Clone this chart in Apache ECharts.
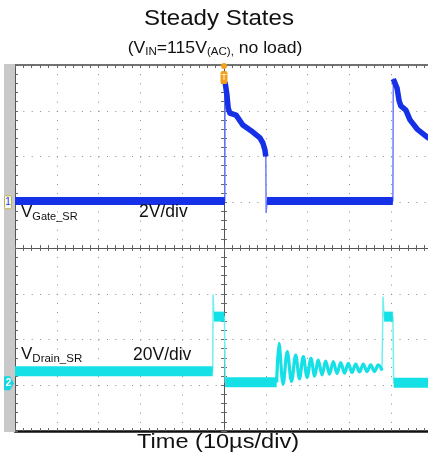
<!DOCTYPE html>
<html><head><meta charset="utf-8">
<script src="https://cdn.jsdelivr.net/npm/echarts@6/dist/echarts.min.js"></script>
<style>html,body{margin:0;padding:0;background:#fff}#c{width:428px;height:459px}</style>
</head><body><div id="c"></div>
<script>
// ---------------- data (time in µs, values in volts) ----------------
const timeTicks = [0, 10, 20, 30, 40, 50, 60, 70, 80, 90, 100];
const divTicks = [-4, -3, -2, -1, 0, 1, 2, 3, 4];
const gateScale = 2;    // V/div
const gateOffset = 1;   // ground position, divisions above centre
const drainScale = 20;  // V/div
const drainOffset = -3; // ground position, divisions from centre

// CH1 V_Gate_SR: noisy runs (drawn wide) and fast spikes between them
const gateRuns = [
  [[0, 0.05], [50.2, 0.05]],
  [[50.25, 5.26], [50.7, 4.69], [51.0, 4.12], [51.4, 3.9], [52.9, 3.81], [54.5, 3.38], [56.9, 3.07], [58.6, 2.81], [59.3, 2.59], [59.8, 2.28], [60.0, 2.0]],
  [[60.3, 0.05], [90.4, 0.05]],
  [[90.5, 5.39], [90.9, 5.34], [91.4, 4.99], [91.9, 4.43], [92.3, 4.21], [93.5, 4.03], [94.5, 3.6], [96.2, 3.2], [98.6, 2.85], [100, 2.7]]
];
const gateSpikes = [[60.08, -0.45]];

// CH2 V_Drain_SR
const drainRuns = [
  [[0, 6.1], [47.3, 6.1]],
  [[47.6, 30], [50.1, 30]],
  [[50.3, 1.3], [62.6, 1.3]],
  [[88.3, 30], [90.4, 30]],
  [[90.6, 1.1], [100, 1.1]]
];
const drainSpikes = [[47.4, 39.5], [88.05, 38.6]];
const drainRing = [[62.6, 1.3], [63.16, 18.3], [64.15, 0.5], [65.14, 14.7], [66.15, 1.7], [67.15, 13.2], [68.06, 2.8], [68.97, 12.5], [69.89, 3.4], [70.81, 11.8], [71.69, 4.0], [72.56, 11.0], [73.45, 4.5], [74.33, 10.6], [75.24, 4.9], [76.15, 10.3], [77.04, 5.1], [77.92, 9.9], [78.83, 5.3], [79.74, 9.6], [80.63, 5.6], [81.51, 9.3], [82.42, 5.8], [83.33, 9.3], [84.22, 6.0], [85.10, 8.9], [86.0, 6.0], [86.91, 8.9], [87.8, 6.5]];

// ---------------- chart ----------------
const gateDiv = v => gateOffset + v / gateScale;
const drainDiv = v => drainOffset + v / drainScale;
const GRID = {left: 15, top: 65, width: 418, height: 366, outerBoundsMode: 'none', containLabel: false};

const BLUE = '#1530e6', BLUE_EDGE = '#6f7bff';
const CYAN = '#14e0e6', CYAN_EDGE = '#6ff0f2';

function fullTrace(runs, spikes, extra, conv) {
  let pts = [];
  runs.forEach(r => pts = pts.concat(r));
  pts = pts.concat(spikes).concat(extra || []);
  pts.sort((a, b) => a[0] - b[0]);
  return pts.map(p => [p[0], conv(p[1])]);
}
function lineSeries(data, color, width, z, smooth) {
  return {type: 'line', xAxisIndex: 0, yAxisIndex: 0, data, symbol: 'none', showSymbol: false,
    smooth: smooth || false, animation: false, silent: true, z,
    lineStyle: {color, width, cap: 'butt', join: 'round'}};
}
const isFlat = r => r.length === 2;

const series = [];
series.push(lineSeries(fullTrace(gateRuns, gateSpikes, [], gateDiv), BLUE_EDGE, 1.5, 3));
gateRuns.forEach(r => series.push(lineSeries(r.map(p => [p[0], gateDiv(p[1])]), BLUE, isFlat(r) ? 8 : 5.5, 4)));
series.push(lineSeries(fullTrace(drainRuns, drainSpikes, drainRing, drainDiv), CYAN_EDGE, 1.5, 3));
drainRuns.forEach(r => series.push(lineSeries(r.map(p => [p[0], drainDiv(p[1])]), CYAN, 10, 4)));
series.push(lineSeries(drainRing.map(p => [p[0], drainDiv(p[1])]), CYAN, 3.2, 4, 0.35));

const dotV = {color: '#8a8a8a', width: 1, type: [1, 8.15]};
const dotH = {color: '#8a8a8a', width: 1, type: [1, 7.36]};
const minor = (len) => ({show: true, splitNumber: 5, length: len, lineStyle: {color: '#666', width: 1}});
const tick = (len, inside) => ({show: true, inside, length: len, lineStyle: {color: '#666', width: 1}});

const grids = [0, 1, 2].map(() => Object.assign({}, GRID));
const xMin = timeTicks[0], xMax = timeTicks[timeTicks.length - 1];
const yMin = divTicks[0], yMax = divTicks[divTicks.length - 1];
const half = (xMax - xMin) / 2;

const option = {
  animation: false,
  backgroundColor: '#fff',
  grid: grids,
  xAxis: [
    {gridIndex: 0, type: 'value', min: xMin, max: xMax, interval: 10, position: 'bottom',
      axisLine: {show: true, onZero: false, lineStyle: {color: '#111', width: 2.5}},
      axisTick: tick(3, true), minorTick: minor(3), axisLabel: {show: false},
      splitLine: {show: true, lineStyle: dotV}},
    {gridIndex: 0, type: 'value', min: xMin, max: xMax, interval: 10, position: 'top',
      axisLine: {show: true, onZero: false, lineStyle: {color: '#444', width: 1.5}},
      axisTick: tick(3, true), minorTick: minor(3), axisLabel: {show: false}, splitLine: {show: false}},
    {gridIndex: 1, type: 'value', min: -half, max: half, interval: 10,
      axisLine: {show: true, onZero: true, lineStyle: {color: '#555', width: 1}},
      axisTick: tick(3, true), minorTick: minor(3), axisLabel: {show: false}, splitLine: {show: false}},
    {gridIndex: 2, type: 'value', min: -half, max: half, interval: 10,
      axisLine: {show: false, onZero: true},
      axisTick: tick(3, false), minorTick: minor(3), axisLabel: {show: false}, splitLine: {show: false}}
  ],
  yAxis: [
    {gridIndex: 0, type: 'value', min: yMin, max: yMax, interval: 1, position: 'left',
      axisLine: {show: true, onZero: false, lineStyle: {color: '#555', width: 1}},
      axisTick: tick(3, true), minorTick: minor(3), axisLabel: {show: false},
      splitLine: {show: true, lineStyle: dotH}},
    {gridIndex: 1, type: 'value', min: yMin, max: yMax, interval: 1,
      axisLine: {show: true, onZero: true, lineStyle: {color: '#555', width: 1}},
      axisTick: tick(3, true), minorTick: minor(3), axisLabel: {show: false}, splitLine: {show: false}},
    {gridIndex: 2, type: 'value', min: yMin, max: yMax, interval: 1,
      axisLine: {show: false, onZero: true},
      axisTick: tick(3, false), minorTick: minor(3), axisLabel: {show: false}, splitLine: {show: false}}
  ],
  series
};

const chart = echarts.init(document.getElementById('c'), null, {renderer: 'canvas'});
chart.setOption(option);

// ---------------- text & markers ----------------
const FONT = '"Liberation Sans", Arial, sans-serif';
const mctx = document.createElement('canvas').getContext('2d');
function tw(t, size) { mctx.font = size + 'px ' + FONT; return mctx.measureText(t).width; }
// pieces: [text, size, baselineShift]
function textLine(pieces, x, baseline, align, sx, color) {
  sx = sx || 1;
  const total = pieces.reduce((s, p) => s + tw(p[0], p[1]) * sx, 0);
  let cx = align === 'center' ? x - total / 2 : x;
  const out = [];
  pieces.forEach(p => {
    out.push({type: 'text', x: cx, y: baseline + (p[2] || 0) - 0.35 * p[1], scaleX: sx, z: 50, silent: true,
      style: {x: 0, y: 0, text: p[0], fill: color || '#111', font: p[1] + 'px ' + FONT, align: 'left', verticalAlign: 'middle'}});
    cx += tw(p[0], p[1]) * sx;
  });
  return out;
}

const gY = chart.convertToPixel({gridIndex: 0}, [0, gateDiv(0)])[1];
const dY = chart.convertToPixel({gridIndex: 0}, [0, drainDiv(0)])[1];
const trig = chart.convertToPixel({gridIndex: 0}, [50, yMax]);
const left = GRID.left;

let g = [];
g.push({type: 'rect', shape: {x: 4, y: 64, width: left - 4, height: 368}, style: {fill: '#c9c9c9'}, z: 1, silent: true});
g = g.concat(textLine([['Steady States', 21.5, 0]], 219, 27, 'center', 1.12));
g = g.concat(textLine([['(V', 16, 0], ['IN', 10.5, 2], ['=115V', 16, 0], ['(AC),', 10.5, 2], [' no load)', 16, 0]], 215, 54, 'center', 1.1));
g = g.concat(textLine([['V', 17, 0], ['Gate_SR', 11, 2.5]], 21, 218, 'left'));
g = g.concat(textLine([['2V/div', 17.5, 0]], 139, 218, 'left'));
g = g.concat(textLine([['V', 17, 0], ['Drain_SR', 11.5, 2.5]], 21, 360, 'left'));
g = g.concat(textLine([['20V/div', 17.5, 0]], 133, 361, 'left'));
g = g.concat(textLine([['Time (10µs/div)', 20.5, 0]], 218, 450, 'center', 1.15));
// CH1 marker
g.push({type: 'rect', shape: {x: 4.5, y: gY - 6.5, width: 7, height: 13, r: 1}, style: {fill: '#f4f6ff', stroke: '#c2b640', lineWidth: 1}, z: 20, silent: true});
g.push({type: 'text', x: 8, y: gY, z: 21, silent: true, style: {text: '1', fill: '#2438d0', font: '10px ' + FONT, align: 'center', verticalAlign: 'middle'}});
// CH2 marker
const m2 = dY - 2;
g.push({type: 'polygon', shape: {points: [[4, m2 - 7], [10, m2 - 7], [14, m2], [10, m2 + 7], [4, m2 + 7]]}, style: {fill: '#17d8e0'}, z: 20, silent: true});
g.push({type: 'text', x: 8.5, y: m2, z: 21, silent: true, style: {text: '2', fill: '#fff', font: 'bold 10px ' + FONT, align: 'center', verticalAlign: 'middle'}});
// trigger marker
g.push({type: 'circle', shape: {cx: trig[0], cy: trig[1] + 1, r: 3}, style: {fill: '#f3a020'}, z: 20, silent: true});
g.push({type: 'rect', shape: {x: trig[0] - 3.5, y: trig[1] + 6, width: 7, height: 13, r: 2}, style: {fill: '#f3a020'}, z: 20, silent: true});
g.push({type: 'text', x: trig[0], y: trig[1] + 12.5, z: 21, silent: true, style: {text: 'T', fill: '#fff5e0', font: '9px ' + FONT, align: 'center', verticalAlign: 'middle'}});

chart.setOption({graphic: {elements: g}});
</script>
</body></html>
